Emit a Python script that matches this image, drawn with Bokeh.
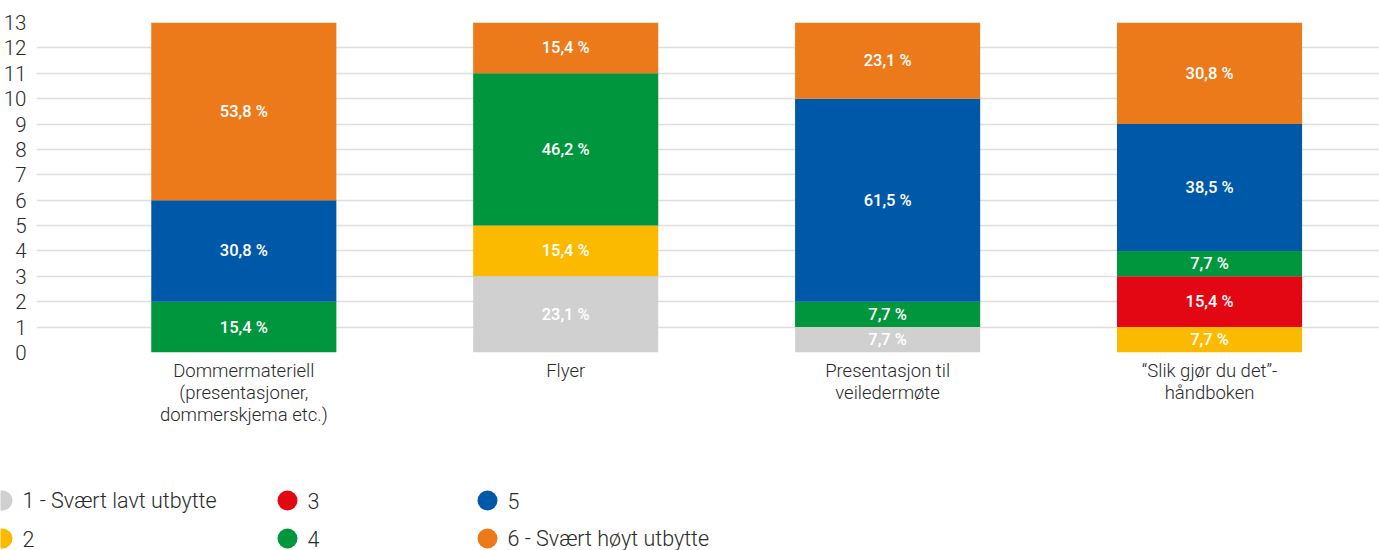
from bokeh.plotting import figure
from bokeh.layouts import column, row
from bokeh.models import Range1d, FixedTicker, ColumnDataSource
from bokeh.core.properties import value
from bokeh.embed import file_html
from bokeh.resources import INLINE

categories = ["Dommermateriell\n(presentasjoner,\ndommerskjema etc.)", "Flyer",
              "Presentasjon til\nveiledermøte", "\u201cSlik gjør du det\u201d-\nhåndboken"]
levels = ["1 - Svært lavt utbytte", "2", "3", "4", "5", "6 - Svært høyt utbytte"]
colors = ["#d0d0d0", "#fbba00", "#e30613", "#00963e", "#0059a8", "#ec7a1b"]
s1 = [0, 3, 1, 0]
s2 = [0, 2, 0, 1]
s3 = [0, 0, 0, 2]
s4 = [2, 6, 1, 1]
s5 = [4, 0, 8, 5]
s6 = [7, 2, 3, 4]
series = [s1, s2, s3, s4, s5, s6]
y_ticks = list(range(0, 14))

LIGHT = "Roboto Light, Roboto"
MED = "Roboto Medium, Roboto"

xs = list(range(len(categories)))
data = {"x": xs}
for name, s in zip(levels, series):
    data[name] = s
src = ColumnDataSource(data)

p = figure(width=1379, height=470, output_backend="svg", toolbar_location=None,
           x_range=Range1d(-0.644, 3.528), y_range=Range1d(0, 13),
           min_border_left=36, min_border_right=0, min_border_top=22, min_border_bottom=118)
p.outline_line_color = None
p.background_fill_color = "white"
p.border_fill_color = "white"

p.vbar_stack(levels, x="x", width=0.575, color=colors, line_color=None, source=src)

# segment labels
totals = [sum(s[i] for s in series) for i in xs]
lx, ly, lt = [], [], []
for i in xs:
    base = 0
    for s in series:
        v = s[i]
        if v > 0:
            lx.append(i)
            ly.append(base + v / 2)
            lt.append(f"{v / totals[i] * 100:.1f}".replace(".", ",") + " %")
        base += v
p.text(x=lx, y=ly, text=lt, text_color="white", text_font=value(MED),
       text_font_size="16.5px", text_align="center", text_baseline="middle")

p.xgrid.grid_line_color = None
p.ygrid.grid_line_color = "#dedede"
p.ygrid.grid_line_width = 1.5
p.ygrid.ticker = FixedTicker(ticks=y_ticks)

p.yaxis.ticker = FixedTicker(ticks=y_ticks)
p.yaxis.axis_line_color = None
p.yaxis.major_tick_line_color = None
p.yaxis.minor_tick_line_color = None
p.yaxis.major_label_text_font = LIGHT
p.yaxis.major_label_text_font_size = "20.5px"
p.yaxis.major_label_text_color = "#2a2a2a"
p.yaxis.major_label_standoff = 4

p.xaxis.ticker = FixedTicker(ticks=xs)
p.xaxis.major_label_overrides = {i: c for i, c in zip(xs, categories)}
p.xaxis.axis_line_color = None
p.xaxis.major_tick_line_color = None
p.xaxis.minor_tick_line_color = None
p.xaxis.major_label_text_font = LIGHT
p.xaxis.major_label_text_font_size = "18.5px"
p.xaxis.major_label_text_line_height = 1.0
p.xaxis.major_label_text_color = "#2a2a2a"
p.xaxis.major_label_standoff = 1

# legend figure
leg = figure(width=1379, height=80, output_backend="svg", toolbar_location=None,
             x_range=Range1d(0, 1379), y_range=Range1d(80, 0),
             x_axis_type=None, y_axis_type=None, min_border=0)
leg.grid.visible = False
leg.outline_line_color = None
col_x = [2, 287, 487]
row_y = [30, 68]
cx = [col_x[k // 2] for k in range(len(levels))]
cy = [row_y[k % 2] for k in range(len(levels))]
leg.scatter(x=cx, y=cy, size=20, color=colors, line_color=None, marker="circle")
leg.text(x=[c + 20 for c in cx], y=cy, text=levels, text_font=value(LIGHT),
         text_font_size="21.5px", text_color="#2a2a2a", text_baseline="middle")

open("out.html", "w").write(file_html(column(p, row(leg), spacing=0), INLINE))
